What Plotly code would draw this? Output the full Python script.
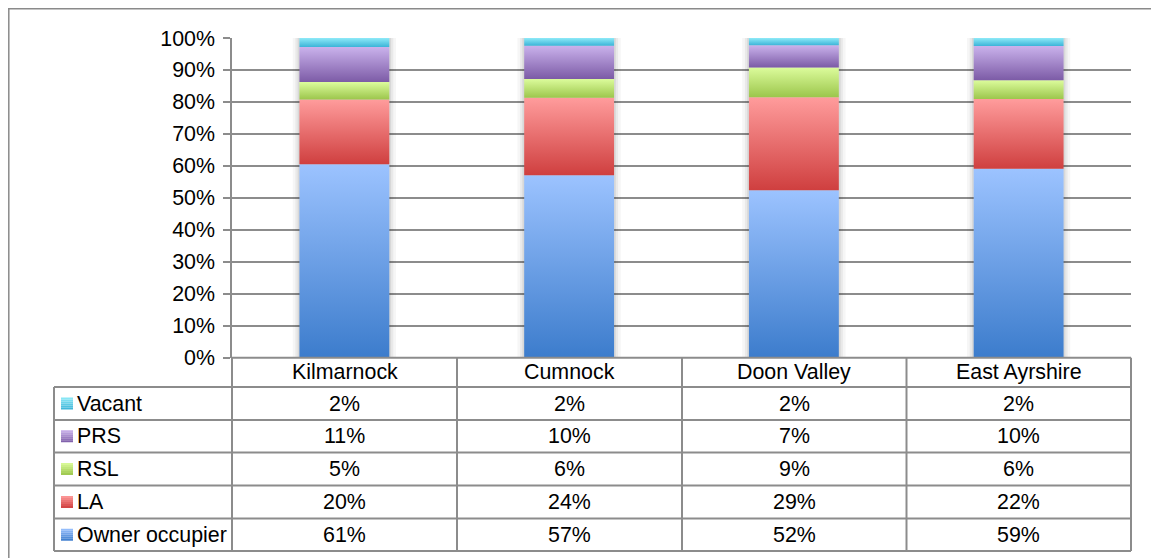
import plotly.graph_objects as go

# ---------------- data ----------------
categories = ["Kilmarnock", "Cumnock", "Doon Valley", "East Ayrshire"]

# bar heights (share of stock, %)
owner_occupier = [60.5, 57.1, 52.4, 59.1]
la = [20.3, 24.2, 29.1, 21.8]
rsl = [5.4, 5.9, 9.3, 5.9]
prs = [11.0, 10.4, 6.9, 10.7]
vacant = [2.8, 2.4, 2.3, 2.5]

# rounded values printed in the data table
owner_occupier_tbl = [61, 57, 52, 59]
la_tbl = [20, 24, 29, 22]
rsl_tbl = [5, 6, 9, 6]
prs_tbl = [11, 10, 7, 10]
vacant_tbl = [2, 2, 2, 2]

y_ticks = [0, 10, 20, 30, 40, 50, 60, 70, 80, 90, 100]

# ---------------- styling ----------------
series = [
    ("Owner occupier", owner_occupier, owner_occupier_tbl, "#3c7ccc", "#9cc3ff"),
    ("LA", la, la_tbl, "#cf3f3f", "#ff9c9c"),
    ("RSL", rsl, rsl_tbl, "#9cc64c", "#dcfc9c"),
    ("PRS", prs, prs_tbl, "#7c5ba6", "#cab2ec"),
    ("Vacant", vacant, vacant_tbl, "#3cb4d8", "#8eeaf8"),
]

# body margin is removed by a small post script, so figure pixels = window pixels
OFF = 0
W, H = 1151 - OFF, 558 - OFF
# plot area in window pixels: x 232..1131, y 38..551
L, R, T, B = 232 - OFF, 1151 - 1131, 38 - OFF, 558 - 551
FONT = "Liberation Sans, Arial, sans-serif"
FS = 21.4
GRID = "#8c8c8c"

def px_x(x):
    return (x - OFF - L) / (W - L - R)

def px_y(y):
    return (H - B - (y - OFF)) / (H - T - B)

chart_bottom_px = 357.7
y_dom0 = px_y(chart_bottom_px)

fig = go.Figure()

half = 0.2
n = len(categories)
totals = [sum(s[1][i] for s in series) for i in range(n)]

# soft shadows behind bars
for i in range(n):
    for w, a in [(0.03, 0.035), (0.018, 0.05), (0.008, 0.07)]:
        fig.add_trace(go.Scatter(
            x=[i - half - w, i + half + w, i + half + w, i - half - w, i - half - w],
            y=[-0.5, -0.5, 100 + w * 20, 100 + w * 20, -0.5],
            fill="toself", mode="lines", line=dict(width=0),
            fillcolor=f"rgba(0,0,0,{a})", hoverinfo="skip", showlegend=False,
        ))

# stacked bars with vertical gradients
for i in range(n):
    base = 0.0
    for name, vals, _, dark, light in series:
        top = base + vals[i] / totals[i] * 100
        fig.add_trace(go.Scatter(
            x=[i - half, i + half, i + half, i - half, i - half],
            y=[base, base, top, top, base],
            fill="toself", mode="lines", line=dict(width=0),
            fillgradient=dict(type="vertical", colorscale=[[0, dark], [1, light]]),
            name=name, hoverinfo="skip", showlegend=False,
        ))
        base = top

shapes = []
annotations = []

def hline(x0, x1, y, color=GRID, width=2):
    shapes.append(dict(type="line", xref="paper", yref="paper",
                       x0=px_x(x0), x1=px_x(x1), y0=px_y(y), y1=px_y(y),
                       line=dict(color=color, width=width)))

def vline(x, y0, y1, color=GRID, width=2):
    shapes.append(dict(type="line", xref="paper", yref="paper",
                       x0=px_x(x), x1=px_x(x), y0=px_y(y0), y1=px_y(y1),
                       line=dict(color=color, width=width)))

# outer frame (extends past the picture)
hline(8, 1200, 8.8, color="#8a8a8a", width=1.5)
vline(8.8, 8, 600, color="#8a8a8a", width=1.5)

# data table
col_edges = [232, 457, 682, 906.5, 1131]
row_edges = [387, 420, 452.5, 485.5, 518.5, 551]
table_left = 54
hline(232, 1131, chart_bottom_px)
for y in row_edges:
    hline(table_left, 1131, y)
for x in col_edges:
    vline(x, chart_bottom_px, 551)
vline(table_left, row_edges[0], 551)

# header
for j, cat in enumerate(categories):
    cx = (col_edges[j] + col_edges[j + 1]) / 2
    annotations.append(dict(x=px_x(cx), y=px_y((chart_bottom_px + row_edges[0]) / 2),
                            xref="paper", yref="paper", text=cat, showarrow=False,
                            font=dict(family=FONT, size=FS, color="#000000"),
                            xanchor="center", yanchor="middle"))

def mix(c1, c2, t):
    a = [int(c1[k:k + 2], 16) for k in (1, 3, 5)]
    b = [int(c2[k:k + 2], 16) for k in (1, 3, 5)]
    return "#" + "".join(f"{round(a[k] + (b[k] - a[k]) * t):02x}" for k in range(3))

table_rows = list(reversed(series))  # Vacant first
for r, (name, _, tbl, dark, light) in enumerate(table_rows):
    y0, y1 = row_edges[r], row_edges[r + 1]
    cy = (y0 + y1) / 2
    ks, kx0 = 12, 61
    ky0 = cy - ks / 2
    nb = 6
    for b in range(nb):
        shapes.append(dict(type="rect", xref="paper", yref="paper",
                           x0=px_x(kx0), x1=px_x(kx0 + ks),
                           y0=px_y(ky0 + b * ks / nb), y1=px_y(ky0 + (b + 1) * ks / nb),
                           fillcolor=mix(light, dark, (b + 0.5) / nb), line=dict(width=0)))
    annotations.append(dict(x=px_x(75), y=px_y(cy), xref="paper", yref="paper",
                            text=name, showarrow=False,
                            font=dict(family=FONT, size=FS, color="#000000"),
                            xanchor="left", yanchor="middle"))
    for j in range(n):
        cx = (col_edges[j] + col_edges[j + 1]) / 2
        annotations.append(dict(x=px_x(cx), y=px_y(cy), xref="paper", yref="paper",
                                text=f"{tbl[j]}%", showarrow=False,
                                font=dict(family=FONT, size=FS, color="#000000"),
                                xanchor="center", yanchor="middle"))

fig.update_layout(
    width=W, height=H,
    margin=dict(l=L, r=R, t=T, b=B, autoexpand=False),
    paper_bgcolor="white", plot_bgcolor="white",
    showlegend=False,
    shapes=shapes, annotations=annotations,
    xaxis=dict(range=[-0.5, n - 0.5], visible=False, fixedrange=True),
    yaxis=dict(range=[0, 100], domain=[y_dom0, 1], tickvals=y_ticks,
               ticktext=[f"{v}%" for v in y_ticks],
               showgrid=True, gridcolor=GRID, gridwidth=1.5,
               zeroline=False, showline=True, linecolor=GRID, linewidth=1.5,
               ticks="outside", ticklen=7, tickcolor=GRID, tickwidth=1.5,
               ticklabelstandoff=4,
               tickfont=dict(family=FONT, size=FS, color="#000000"),
               fixedrange=True),
)

fig.write_html(
    "out.html",
    config={"displayModeBar": False},
    post_script="document.body.style.margin='0';document.body.style.overflow='hidden';",
)
